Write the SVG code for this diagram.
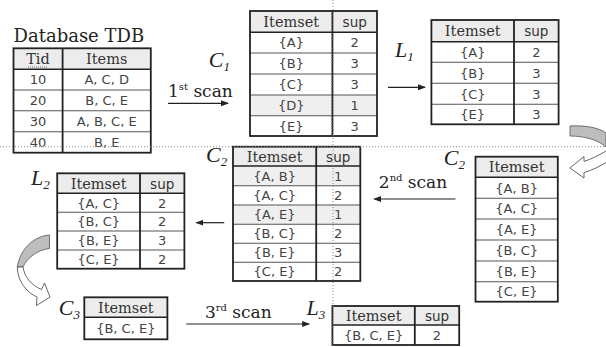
<svg xmlns="http://www.w3.org/2000/svg" width="606" height="347" viewBox="0 0 606 347">
<defs>
<style>
.bg{fill:#fff}
.hd{fill:#ececec}
.sh{fill:#efefef}
.ol{fill:none;stroke:#222;stroke-width:1.8}
.rl{stroke:#555;stroke-width:1.1}
.cl{stroke:#222;stroke-width:1.8}
.hl{stroke:#222;stroke-width:1.6}
.ht{font-family:"DejaVu Serif",serif;font-size:14.5px;fill:#333;text-anchor:middle}
.hs{font-family:"DejaVu Sans",sans-serif;font-size:13.5px;fill:#333;text-anchor:middle}
.ct{font-family:"DejaVu Sans",sans-serif;font-size:13px;fill:#444;text-anchor:middle}
.lbl{font-family:"Liberation Serif",serif;font-style:italic;font-size:22px;fill:#222}
.sub{font-size:13px}
.scan{font-family:"DejaVu Serif",serif;font-size:17px;fill:#222}
.arr{stroke:#222;stroke-width:1.2;fill:none}
.dot{stroke:#888;stroke-width:1;stroke-dasharray:1 2;fill:none}
</style>
<marker id="ah" markerWidth="8" markerHeight="6" refX="7" refY="3" orient="auto" markerUnits="userSpaceOnUse">
<path d="M0,0 L8,3 L0,6 Z" fill="#222"/>
</marker>
</defs>

<text x="13.5" y="42" font-family="DejaVu Serif, serif" font-size="18" fill="#222">Database TDB</text>

<g id="tdb">
<rect class="bg" x="13.5" y="48.3" width="137.3" height="104.4"/>
<rect class="hd" x="13.5" y="48.3" width="137.3" height="21"/>
<line class="rl" x1="13.5" y1="90" x2="150.8" y2="90"/>
<line class="rl" x1="13.5" y1="110.7" x2="150.8" y2="110.7"/>
<line class="rl" x1="13.5" y1="131.7" x2="150.8" y2="131.7"/>
<line class="hl" x1="13.5" y1="69.3" x2="150.8" y2="69.3"/>
<line class="cl" x1="62.6" y1="48.3" x2="62.6" y2="152.7"/>
<rect class="ol" x="13.5" y="48.3" width="137.3" height="104.4"/>
<text class="ht" x="38" y="64">Tid</text>
<line x1="28" y1="67" x2="48" y2="67" stroke="#555" stroke-width="0.8" stroke-dasharray="1 1"/>
<text class="ht" x="106.7" y="64">Items</text>
<text class="ct" x="38" y="84.4">10</text><text class="ct" x="106.7" y="84.4">A, C, D</text>
<text class="ct" x="38" y="105.1">20</text><text class="ct" x="106.7" y="105.1">B, C, E</text>
<text class="ct" x="38" y="125.9">30</text><text class="ct" x="106.7" y="125.9">A, B, C, E</text>
<text class="ct" x="38" y="146.9">40</text><text class="ct" x="106.7" y="146.9">B, E</text>
</g>

<g id="c1">
<rect class="bg" x="250" y="11" width="127" height="125"/>
<rect class="hd" x="250" y="11" width="127" height="21.3"/>
<rect class="sh" x="250" y="95" width="127" height="20.7"/>
<line class="rl" x1="250" y1="53" x2="377" y2="53"/>
<line class="rl" x1="250" y1="74" x2="377" y2="74"/>
<line class="rl" x1="250" y1="95" x2="377" y2="95"/>
<line class="rl" x1="250" y1="115.7" x2="377" y2="115.7"/>
<line class="hl" x1="250" y1="32.3" x2="377" y2="32.3"/>
<line class="cl" x1="332.4" y1="11" x2="332.4" y2="136"/>
<rect class="ol" x="250" y="11" width="127" height="125"/>
<text class="ht" x="291.2" y="26.5">Itemset</text><text class="hs" x="354.7" y="26.5">sup</text>
<text class="ct" x="291.2" y="47.2">{A}</text><text class="ct" x="354.7" y="47.2">2</text>
<text class="ct" x="291.2" y="68.2">{B}</text><text class="ct" x="354.7" y="68.2">3</text>
<text class="ct" x="291.2" y="89.2">{C}</text><text class="ct" x="354.7" y="89.2">3</text>
<text class="ct" x="291.2" y="110.2">{D}</text><text class="ct" x="354.7" y="110.2">1</text>
<text class="ct" x="291.2" y="130.7">{E}</text><text class="ct" x="354.7" y="130.7">3</text>
<text class="lbl" x="208.7" y="67">C<tspan class="sub" dy="4">1</tspan></text>
</g>

<g id="l1">
<rect class="bg" x="431.4" y="20" width="127.2" height="104.3"/>
<rect class="hd" x="431.4" y="20" width="127.2" height="21.7"/>
<line class="rl" x1="431.4" y1="62.3" x2="558.6" y2="62.3"/>
<line class="rl" x1="431.4" y1="83.3" x2="558.6" y2="83.3"/>
<line class="rl" x1="431.4" y1="104.3" x2="558.6" y2="104.3"/>
<line class="hl" x1="431.4" y1="41.7" x2="558.6" y2="41.7"/>
<line class="cl" x1="514" y1="20" x2="514" y2="124.3"/>
<rect class="ol" x="431.4" y="20" width="127.2" height="104.3"/>
<text class="ht" x="472.7" y="35.8">Itemset</text><text class="hs" x="536.3" y="35.8">sup</text>
<text class="ct" x="472.7" y="56.7">{A}</text><text class="ct" x="536.3" y="56.7">2</text>
<text class="ct" x="472.7" y="77.5">{B}</text><text class="ct" x="536.3" y="77.5">3</text>
<text class="ct" x="472.7" y="98.5">{C}</text><text class="ct" x="536.3" y="98.5">3</text>
<text class="ct" x="472.7" y="119">{E}</text><text class="ct" x="536.3" y="119">3</text>
<text class="lbl" x="395" y="57">L<tspan class="sub" dy="4">1</tspan></text>
</g>

<g id="c2mid">
<rect class="bg" x="233" y="146.7" width="127.3" height="134.3"/>
<rect class="hd" x="233" y="146.7" width="127.3" height="19.3"/>
<rect class="sh" x="233" y="166" width="127.3" height="19.7"/>
<rect class="sh" x="233" y="205" width="127.3" height="19.3"/>
<line class="rl" x1="233" y1="185.7" x2="360.3" y2="185.7"/>
<line class="rl" x1="233" y1="205" x2="360.3" y2="205"/>
<line class="rl" x1="233" y1="224.3" x2="360.3" y2="224.3"/>
<line class="rl" x1="233" y1="243.3" x2="360.3" y2="243.3"/>
<line class="rl" x1="233" y1="262.3" x2="360.3" y2="262.3"/>
<line class="hl" x1="233" y1="166" x2="360.3" y2="166"/>
<line class="cl" x1="316.2" y1="146.7" x2="316.2" y2="281"/>
<rect class="ol" x="233" y="146.7" width="127.3" height="134.3"/>
<text class="ht" x="274.6" y="161.5">Itemset</text><text class="hs" x="338.2" y="161.5">sup</text>
<text class="ct" x="274.6" y="180.5">{A, B}</text><text class="ct" x="338.2" y="180.5">1</text>
<text class="ct" x="274.6" y="200">{A, C}</text><text class="ct" x="338.2" y="200">2</text>
<text class="ct" x="274.6" y="219.2">{A, E}</text><text class="ct" x="338.2" y="219.2">1</text>
<text class="ct" x="274.6" y="238.4">{B, C}</text><text class="ct" x="338.2" y="238.4">2</text>
<text class="ct" x="274.6" y="257.4">{B, E}</text><text class="ct" x="338.2" y="257.4">3</text>
<text class="ct" x="274.6" y="276.2">{C, E}</text><text class="ct" x="338.2" y="276.2">2</text>
<text class="lbl" x="206" y="162">C<tspan class="sub" dy="4">2</tspan></text>
</g>

<g id="l2">
<rect class="bg" x="57.2" y="173.3" width="127.2" height="95.4"/>
<rect class="hd" x="57.2" y="173.3" width="127.2" height="20"/>
<line class="rl" x1="57.2" y1="212.3" x2="184.4" y2="212.3"/>
<line class="rl" x1="57.2" y1="231" x2="184.4" y2="231"/>
<line class="rl" x1="57.2" y1="250" x2="184.4" y2="250"/>
<line class="hl" x1="57.2" y1="193.3" x2="184.4" y2="193.3"/>
<line class="cl" x1="140" y1="173.3" x2="140" y2="268.7"/>
<rect class="ol" x="57.2" y="173.3" width="127.2" height="95.4"/>
<text class="ht" x="98.6" y="188.5">Itemset</text><text class="hs" x="162.2" y="188.5">sup</text>
<text class="ct" x="98.6" y="207.5">{A, C}</text><text class="ct" x="162.2" y="207.5">2</text>
<text class="ct" x="98.6" y="226.4">{B, C}</text><text class="ct" x="162.2" y="226.4">2</text>
<text class="ct" x="98.6" y="245.2">{B, E}</text><text class="ct" x="162.2" y="245.2">3</text>
<text class="ct" x="98.6" y="264">{C, E}</text><text class="ct" x="162.2" y="264">2</text>
<text class="lbl" x="31" y="185">L<tspan class="sub" dy="4">2</tspan></text>
</g>

<g id="c2right">
<rect class="bg" x="475.5" y="156.7" width="82.3" height="145"/>
<rect class="hd" x="475.5" y="156.7" width="82.3" height="20.6"/>
<line class="rl" x1="475.5" y1="198.3" x2="557.8" y2="198.3"/>
<line class="rl" x1="475.5" y1="219" x2="557.8" y2="219"/>
<line class="rl" x1="475.5" y1="240" x2="557.8" y2="240"/>
<line class="rl" x1="475.5" y1="261" x2="557.8" y2="261"/>
<line class="rl" x1="475.5" y1="281.7" x2="557.8" y2="281.7"/>
<line class="hl" x1="475.5" y1="177.3" x2="557.8" y2="177.3"/>
<rect class="ol" x="475.5" y="156.7" width="82.3" height="145"/>
<text class="ht" x="516.6" y="172.3">Itemset</text>
<text class="ct" x="516.6" y="192.5">{A, B}</text>
<text class="ct" x="516.6" y="213.4">{A, C}</text>
<text class="ct" x="516.6" y="234.2">{A, E}</text>
<text class="ct" x="516.6" y="255.2">{B, C}</text>
<text class="ct" x="516.6" y="276">{B, E}</text>
<text class="ct" x="516.6" y="296.4">{C, E}</text>
<text class="lbl" x="443.8" y="165">C<tspan class="sub" dy="4">2</tspan></text>
</g>

<g id="c3">
<rect class="bg" x="84.3" y="297.3" width="83.1" height="42"/>
<rect class="hd" x="84.3" y="297.3" width="83.1" height="20"/>
<line class="hl" x1="84.3" y1="317.3" x2="167.4" y2="317.3"/>
<rect class="ol" x="84.3" y="297.3" width="83.1" height="42"/>
<text class="ht" x="125.8" y="312.5">Itemset</text>
<text class="ct" x="125.8" y="333.2">{B, C, E}</text>
<text class="lbl" x="58.8" y="315">C<tspan class="sub" dy="4">3</tspan></text>
</g>

<g id="l3">
<rect class="bg" x="332.4" y="306" width="126.8" height="39"/>
<rect class="hd" x="332.4" y="306" width="126.8" height="19"/>
<line class="hl" x1="332.4" y1="325" x2="459.2" y2="325"/>
<line class="cl" x1="414.8" y1="306" x2="414.8" y2="345"/>
<rect class="ol" x="332.4" y="306" width="126.8" height="39"/>
<text class="ht" x="373.6" y="320.7">Itemset</text><text class="hs" x="437" y="320.7">sup</text>
<text class="ct" x="373.6" y="339.9">{B, C, E}</text><text class="ct" x="437" y="339.9">2</text>
<text class="lbl" x="306.5" y="315">L<tspan class="sub" dy="4">3</tspan></text>
</g>

<g id="connectors">
<line class="arr" x1="168" y1="103.3" x2="228" y2="103.3" marker-end="url(#ah)"/>
<text class="scan" x="168" y="97">1<tspan font-size="10" dy="-7">st</tspan><tspan dy="7"> scan</tspan></text>
<line class="arr" x1="388" y1="87.3" x2="425" y2="87.3" marker-end="url(#ah)"/>
<line class="arr" x1="455.4" y1="199" x2="374.2" y2="199" marker-end="url(#ah)"/>
<text class="scan" x="378.8" y="188.3">2<tspan font-size="10" dy="-7">nd</tspan><tspan dy="7"> scan</tspan></text>
<line class="arr" x1="224.2" y1="222.7" x2="196.4" y2="222.7" marker-end="url(#ah)"/>
<line class="arr" x1="186.3" y1="324" x2="309.2" y2="324" marker-end="url(#ah)"/>
<text class="scan" x="204.9" y="318.3">3<tspan font-size="10" dy="-7">rd</tspan><tspan dy="7"> scan</tspan></text>
<path d="M570,126 C585,125 600,128 606,133 L606,147 C598,140 585,136 570,136 Z" fill="#bdbdbd" stroke="#555" stroke-width="0.8"/>
<path d="M606,151 C598,156 591,159 584,161.5 L584,156.5 L570,168 L584,178 L584,172.5 C593,170 600,166 606,162.5" fill="#fff" stroke="#555" stroke-width="0.9"/>
<path d="M49.5,235 C34,236 20,249 17.3,267 L23,267 C27,258 37,250 49.5,248.5 Z" fill="#bdbdbd" stroke="#555" stroke-width="0.8"/>
<path d="M17.3,267 C17.5,281 26,292 37,297 L36.5,305.5 L50,297 L44.5,283 L41.5,289.5 C31,285 24.5,277 23,267 Z" fill="#fff" stroke="#555" stroke-width="0.9"/>
</g>

<g id="guides">
<line class="dot" x1="0" y1="146.7" x2="606" y2="146.7"/>
<line class="dot" x1="333" y1="0" x2="333" y2="347"/>
</g>
</svg>
